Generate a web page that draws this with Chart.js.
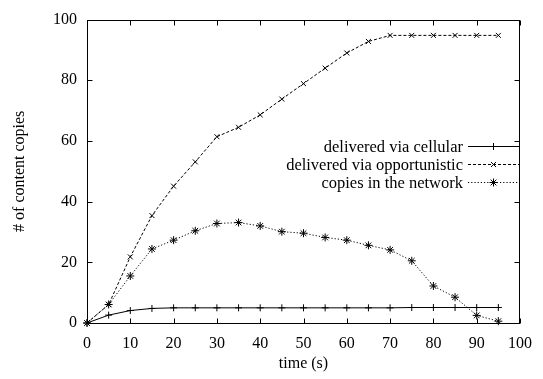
<!DOCTYPE html>
<html>
<head>
<meta charset="utf-8">
<script src="https://cdn.jsdelivr.net/npm/chart.js@4/dist/chart.umd.min.js"></script>
<style>
  html, body { margin: 0; padding: 0; background: #fff; }
  #wrap { width: 543px; height: 379px; }
</style>
</head>
<body>
<div id="wrap"><canvas id="copies-chart" width="543" height="379"></canvas></div>
<script>
var times = [0, 5, 10, 15, 20, 25, 30, 35, 40, 45, 50, 55, 60, 65, 70, 75, 80, 85, 90, 95];
var viaCellular = [0, 2.6, 4.1, 4.8, 5.0, 5.0, 5.0, 5.0, 5.0, 5.0, 5.0, 5.0, 5.0, 5.0, 5.0, 5.1, 5.1, 5.1, 5.1, 5.1];
var viaOpportunistic = [0, 6.1, 21.8, 35.4, 45.1, 53.1, 61.4, 64.5, 68.6, 73.8, 78.9, 84.0, 89.0, 92.8, 94.8, 94.8, 94.8, 94.8, 94.8, 94.8];
var inNetwork = [0, 6.1, 15.5, 24.4, 27.3, 30.4, 32.8, 33.1, 32.0, 30.1, 29.6, 28.2, 27.3, 25.6, 24.1, 20.5, 12.2, 8.5, 2.5, 0.6];
var seriesNames = ["delivered via cellular", "delivered via opportunistic", "copies in the network"];
var xTicks = [0, 10, 20, 30, 40, 50, 60, 70, 80, 90, 100];
var yTicks = [0, 20, 40, 60, 80, 100];

var serif = "'Liberation Serif', 'Times New Roman', serif";

function pts(ys) {
  return times.map(function (t, i) { return { x: t, y: ys[i] }; });
}

function series(label, ys, dash, style, r) {
  return {
    label: label,
    data: pts(ys),
    borderColor: "#000",
    backgroundColor: "#000",
    borderWidth: 1,
    borderDash: dash,
    pointStyle: style,
    pointRadius: r,
    pointBorderWidth: 1,
    pointBorderColor: "#000",
    tension: 0,
    clip: false
  };
}

// little markers for the key, same shapes as the points
function drawMark(ctx, style, x, y, r) {
  ctx.beginPath();
  if (style === "cross" || style === "star") {
    ctx.moveTo(x - r, y); ctx.lineTo(x + r, y);
    ctx.moveTo(x, y - r); ctx.lineTo(x, y + r);
  }
  if (style === "crossRot" || style === "star") {
    var d = r * 0.72;
    ctx.moveTo(x - d, y - d); ctx.lineTo(x + d, y + d);
    ctx.moveTo(x - d, y + d); ctx.lineTo(x + d, y - d);
  }
  ctx.stroke();
}

// gnuplot-like frame: border, inward ticks on all four sides, key inside
var framePlugin = {
  id: "frame",
  afterDraw: function (chart) {
    var ctx = chart.ctx, a = chart.chartArea;
    var xs = chart.scales.x, ys = chart.scales.y;
    var L = Math.round(a.left) + 0.5, R = Math.round(a.right) - 0.5;
    var T = Math.round(a.top) + 0.5, B = Math.round(a.bottom) + 0.5;
    ctx.save();
    ctx.strokeStyle = "#000";
    ctx.lineWidth = 1;
    ctx.setLineDash([]);
    ctx.strokeRect(L, T, R - L, B - T);
    ctx.beginPath();
    xTicks.forEach(function (v) {
      var px = Math.round(xs.getPixelForValue(v)) + 0.5;
      ctx.moveTo(px, B); ctx.lineTo(px, B - 5);
      ctx.moveTo(px, T); ctx.lineTo(px, T + 5);
    });
    yTicks.forEach(function (v) {
      var py = Math.round(ys.getPixelForValue(v)) + 0.5;
      ctx.moveTo(L, py); ctx.lineTo(L + 5, py);
      ctx.moveTo(R, py); ctx.lineTo(R - 5, py);
    });
    ctx.stroke();

    // key
    ctx.font = "16.5px " + serif;
    ctx.fillStyle = "#000";
    ctx.textAlign = "right";
    ctx.textBaseline = "middle";
    chart.data.datasets.forEach(function (ds, i) {
      var y = 146.5 + i * 18;
      ctx.fillText(ds.label, 463, y + 1);
      ctx.setLineDash(ds.borderDash || []);
      ctx.beginPath();
      ctx.moveTo(468, y); ctx.lineTo(519, y);
      ctx.stroke();
      ctx.setLineDash([]);
      drawMark(ctx, ds.pointStyle, 493.5, y, ds.pointRadius);
    });
    ctx.restore();
  }
};

new Chart(document.getElementById("copies-chart"), {
  type: "line",
  data: {
    datasets: [
      series(seriesNames[0], viaCellular, [], "cross", 3.5),
      series(seriesNames[1], viaOpportunistic, [3, 2], "crossRot", 3.5),
      series(seriesNames[2], inNetwork, [1.2, 2], "star", 4)
    ]
  },
  plugins: [framePlugin],
  options: {
    responsive: false,
    animation: false,
    layout: {
      padding: { top: 15, right: 15, left: 0, bottom: 0 }
    },
    plugins: {
      legend: { display: false },
      tooltip: { enabled: false }
    },
    scales: {
      x: {
        type: "linear",
        min: 0,
        max: 100,
        afterFit: function (scale) { scale.height = 56; },
        afterBuildTicks: function (scale) {
          scale.ticks = xTicks.map(function (v) { return { value: v }; });
        },
        grid: { display: false, drawTicks: false },
        border: { display: false },
        ticks: {
          color: "#000",
          padding: 11,
          maxRotation: 0,
          autoSkip: false,
          font: { family: serif, size: 16, lineHeight: 1.2 }
        },
        title: {
          display: true,
          text: "time (s)",
          color: "#000",
          padding: { top: 0, bottom: 6 },
          font: { family: serif, size: 16, lineHeight: 1.2 }
        }
      },
      y: {
        type: "linear",
        min: 0,
        max: 100,
        afterFit: function (scale) { scale.width = 87; },
        afterBuildTicks: function (scale) {
          scale.ticks = yTicks.map(function (v) { return { value: v }; });
        },
        grid: { display: false, drawTicks: false },
        border: { display: false },
        ticks: {
          color: "#000",
          padding: 10,
          font: { family: serif, size: 16, lineHeight: 1.2 }
        },
        title: {
          display: true,
          text: "# of content copies",
          color: "#000",
          padding: { top: 10, bottom: 0 },
          font: { family: serif, size: 16, lineHeight: 1.2 }
        }
      }
    }
  }
});
</script>
</body>
</html>
